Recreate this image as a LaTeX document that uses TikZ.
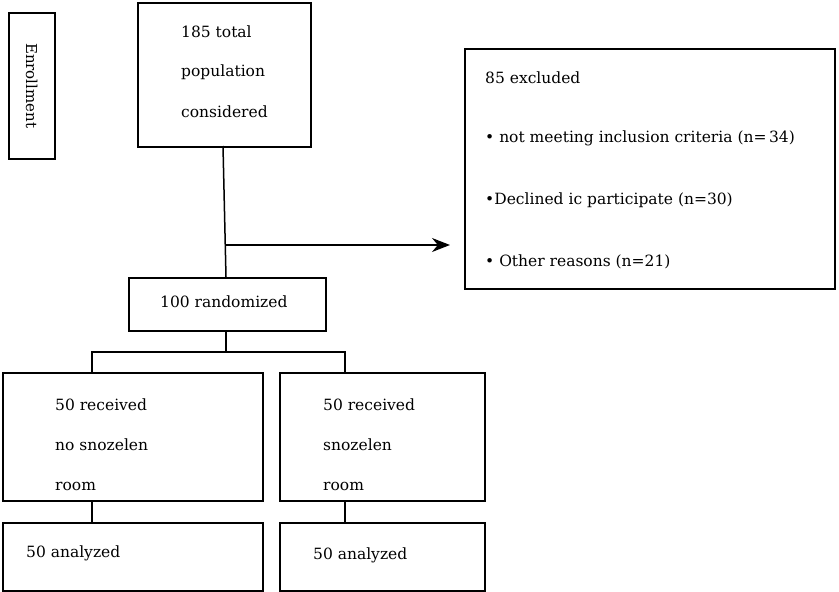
\documentclass[tikz,border=0pt]{standalone}
\usepackage{fontspec}
\setmainfont{DejaVu Serif}
\usetikzlibrary{arrows.meta}
\begin{document}
\begin{tikzpicture}[x=1pt,y=-1pt,
  box/.style={draw,line width=1.5pt,anchor=north west,inner sep=0pt},
  txt/.style={anchor=west,font=\fontsize{15.5}{18}\selectfont,inner sep=0pt},
  ln/.style={line width=1.5pt}]
\useasboundingbox (0,0) rectangle (839,592);
\node[box,minimum width=46,minimum height=146] (enr) at (8,12) {};
\node[rotate=-90,font=\fontsize{15}{18}\selectfont] at (enr.center) {Enrollment};
\node[box,minimum width=173,minimum height=144] (top) at (137,2) {};
\node[txt] at (181,32) {185 total};
\node[txt] at (181,72) {population};
\node[txt] at (181,112) {considered};
\node[box,minimum width=370,minimum height=240] (exc) at (464,48) {};
\node[txt] at (485,78) {85 excluded};
\node[txt] at (485,138) {• not meeting inclusion criteria (n=\,34)};
\node[txt] at (485,200) {•Declined ic participate (n=30)};
\node[txt] at (485,262) {• Other reasons (n=21)};
\node[box,minimum width=197,minimum height=53] (rnd) at (128,277) {};
\node[txt] at (160,302) {100 randomized};
\node[box,minimum width=260,minimum height=128] (l1) at (2,372) {};
\node[txt] at (55,405) {50 received};
\node[txt] at (55,445) {no snozelen};
\node[txt] at (55,486) {room};
\node[box,minimum width=205,minimum height=128] (r1) at (279,372) {};
\node[txt] at (323,405) {50 received};
\node[txt] at (323,445) {snozelen};
\node[txt] at (323,486) {room};
\node[box,minimum width=260,minimum height=68] (l2) at (2,522) {};
\node[txt] at (26,553) {50 analyzed};
\node[box,minimum width=205,minimum height=68] (r2) at (279,522) {};
\node[txt] at (313,555) {50 analyzed};
\coordinate (ar) at (226,245);
\coordinate (at) at (450,245);
\draw[ln] (223,146) -- (226,277);
\draw[ln,-{Stealth[length=18pt,width=14pt]}] (ar) -- (at);
\draw[ln] (226,330) -- (226,352);
\draw[ln] (92,372) -- (92,352) -- (345,352) -- (345,372);
\draw[ln] (92,500) -- (92,522);
\draw[ln] (345,500) -- (345,522);
\end{tikzpicture}
\end{document}
